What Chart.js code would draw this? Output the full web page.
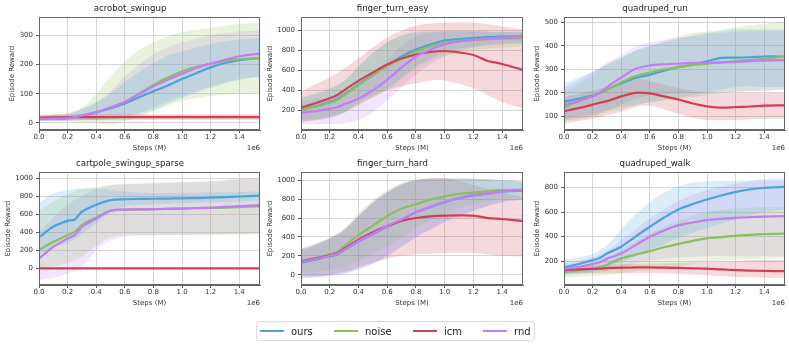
<!DOCTYPE html>
<html lang="en">
<head>
<meta charset="UTF-8">
<title>Episode Reward curves</title>
<script src="https://cdn.jsdelivr.net/npm/chart.js"></script>
<style>
  body { margin: 0; width: 789px; height: 345px; overflow: hidden; background: #fff; position: relative; font-family: "DejaVu Sans", sans-serif; }
  canvas { position: absolute; }
  #legend { position: absolute; left: 256px; top: 321px; width: 277px; height: 18px; border: 1px solid #dcdcdc; border-radius: 3px;
            display: flex; align-items: center; font-size: 10px; color: #222; }
  #legend .item { position: absolute; display: flex; align-items: center; }
  #legend .swatch { width: 24px; height: 2px; margin-right: 7px; }
</style>
</head>
<body>
<canvas id="c1" width="264" height="160" style="left:0px;top:0px"></canvas>
<canvas id="c2" width="265" height="160" style="left:262px;top:0px"></canvas>
<canvas id="c3" width="264" height="160" style="left:525px;top:0px"></canvas>
<canvas id="c4" width="264" height="160" style="left:0px;top:155px"></canvas>
<canvas id="c5" width="265" height="160" style="left:262px;top:155px"></canvas>
<canvas id="c6" width="264" height="160" style="left:525px;top:155px"></canvas>
<div id="legend"></div>
<script>
// x positions (env steps); lines use `steps`, shaded bands use `bandSteps`
const steps = [0, 0.1e6, 0.2e6, 0.25e6, 0.3e6, 0.4e6, 0.5e6, 0.6e6, 0.7e6, 0.8e6, 0.9e6, 1.0e6, 1.1e6, 1.2e6, 1.3e6, 1.4e6, 1.545e6];
const bandSteps = [0, 0.1e6, 0.2e6, 0.3e6, 0.4e6, 0.5e6, 0.6e6, 0.7e6, 0.8e6, 0.9e6, 1.0e6, 1.2e6, 1.4e6, 1.545e6];
const xTicks = [0, 0.2e6, 0.4e6, 0.6e6, 0.8e6, 1.0e6, 1.2e6, 1.4e6];
const methods = ['ours', 'noise', 'icm', 'rnd'];
const colors = ['#4ba3de', '#8bbf5c', '#d23f52', '#c27cf7'];

// acrobot_swingup
const acrobotTicks = [0, 100, 200, 300];
const acrobotOurs  = [15, 15, 16, 20, 25, 35, 50, 67, 88, 108, 128, 150, 170, 190, 205, 215, 222];
const acrobotNoise = [14, 15, 17, 21, 26, 37, 53, 72, 100, 130, 155, 177, 192, 202, 212, 218, 222];
const acrobotIcm   = [18, 19, 19, 20, 20, 20, 20, 20, 20, 20, 20, 20, 20, 20, 20, 20, 20];
const acrobotRnd   = [14, 15, 16, 20, 26, 37, 53, 72, 98, 125, 148, 168, 188, 203, 216, 228, 237];
const acrobotOursHi  = [25, 28, 35, 50, 70, 100, 140, 175, 205, 230, 245, 270, 285, 290];
const acrobotOursLo  = [8, 8, 8, 9, 10, 12, 18, 30, 45, 65, 85, 120, 148, 158];
const acrobotNoiseHi = [25, 28, 30, 50, 100, 160, 210, 250, 275, 295, 310, 325, 338, 342];
const acrobotNoiseLo = [5, 5, 5, 3, 0, -5, 5, 20, 40, 60, 75, 92, 100, 102];
const acrobotIcmHi   = [28, 29, 30, 30, 30, 30, 30, 30, 30, 30, 30, 30, 30, 30];
const acrobotIcmLo   = [8, 9, 10, 10, 10, 10, 10, 10, 10, 10, 10, 10, 10, 10];
const acrobotRndHi   = [25, 28, 30, 45, 70, 110, 160, 200, 235, 260, 275, 300, 312, 315];
const acrobotRndLo   = [8, 8, 8, 9, 10, 15, 20, 35, 55, 75, 95, 125, 150, 160];

// finger_turn_easy
const easyTicks = [200, 400, 600, 800, 1000];
const easyOurs  = [212, 240, 285, 310, 360, 460, 560, 650, 740, 810, 860, 900, 915, 925, 935, 940, 945];
const easyNoise = [207, 235, 275, 300, 350, 450, 550, 645, 720, 790, 840, 875, 895, 905, 915, 920, 925];
const easyIcm   = [227, 270, 320, 350, 400, 495, 580, 660, 720, 760, 785, 795, 780, 755, 695, 665, 605];
const easyRnd   = [173, 190, 215, 230, 260, 315, 400, 505, 630, 740, 810, 860, 890, 910, 920, 930, 935];
const easyOursHi  = [330, 370, 420, 500, 640, 780, 880, 950, 985, 990, 995, 995, 990, 990];
const easyOursLo  = [100, 110, 130, 180, 280, 350, 420, 530, 640, 720, 780, 840, 870, 880];
const easyNoiseHi = [320, 360, 410, 490, 630, 770, 880, 950, 980, 990, 990, 990, 985, 985];
const easyNoiseLo = [90, 100, 120, 170, 260, 330, 400, 510, 620, 700, 750, 800, 830, 840];
const easyIcmHi   = [390, 460, 530, 620, 720, 830, 930, 1000, 1050, 1070, 1080, 1080, 1040, 1010];
const easyIcmLo   = [80, 100, 130, 180, 250, 330, 400, 440, 470, 500, 500, 420, 280, 220];
const easyRndHi   = [290, 310, 330, 380, 450, 560, 700, 850, 940, 980, 990, 990, 985, 985];
const easyRndLo   = [60, 60, 60, 70, 100, 180, 300, 430, 560, 660, 740, 830, 860, 870];

// quadruped_run
const runTicks = [100, 200, 300, 400, 500];
const runOurs  = [162, 175, 190, 200, 215, 240, 264, 277, 295, 310, 320, 335, 349, 350, 352, 355, 355];
const runNoise = [138, 165, 188, 198, 212, 245, 272, 287, 300, 310, 318, 325, 330, 335, 340, 345, 355];
const runIcm   = [122, 135, 150, 158, 165, 185, 200, 198, 185, 172, 155, 143, 137, 140, 142, 146, 147];
const runRnd   = [148, 165, 185, 200, 225, 265, 303, 317, 322, 325, 328, 328, 330, 332, 335, 338, 340];
const runOursHi  = [240, 265, 290, 320, 350, 380, 400, 415, 430, 445, 455, 470, 470, 470];
const runOursLo  = [90, 100, 110, 125, 140, 150, 160, 170, 180, 190, 200, 225, 225, 225];
const runNoiseHi = [200, 240, 280, 320, 350, 380, 400, 420, 440, 455, 460, 480, 495, 500];
const runNoiseLo = [80, 90, 100, 115, 130, 145, 160, 168, 175, 183, 190, 205, 210, 215];
const runIcmHi   = [180, 195, 210, 225, 240, 260, 250, 235, 220, 210, 200, 200, 200, 200];
const runIcmLo   = [70, 80, 90, 105, 120, 140, 145, 130, 110, 95, 85, 85, 90, 90];
const runRndHi   = [220, 255, 290, 330, 360, 400, 415, 425, 435, 440, 450, 460, 465, 465];
const runRndLo   = [85, 90, 100, 125, 150, 175, 190, 195, 200, 200, 200, 205, 210, 215];

// cartpole_swingup_sparse
const cartTicks = [0, 200, 400, 600, 800, 1000];
const cartOurs  = [345, 460, 525, 540, 626, 704, 755, 765, 768, 770, 772, 775, 778, 782, 788, 795, 805];
const cartNoise = [200, 293, 367, 404, 478, 563, 637, 650, 652, 655, 658, 660, 665, 668, 672, 678, 685];
const cartIcm   = [0, 0, 0, 0, 0, 0, 0, 0, 0, 0, 0, 0, 0, 0, 0, 0, 0];
const cartRnd   = [107, 237, 330, 367, 459, 552, 637, 650, 652, 655, 658, 662, 668, 672, 680, 688, 700];
const cartOursHi  = [720, 830, 865, 885, 880, 870, 850, 840, 835, 835, 835, 840, 845, 850];
const cartOursLo  = [150, 230, 280, 380, 500, 620, 690, 700, 710, 715, 720, 730, 740, 750];
const cartNoiseHi = [640, 740, 820, 875, 900, 920, 930, 935, 940, 945, 950, 960, 985, 995];
const cartNoiseLo = [-20, 20, 60, 130, 250, 350, 365, 368, 370, 370, 370, 370, 372, 375];
const cartIcmHi   = [6, 6, 6, 6, 6, 6, 6, 6, 6, 6, 6, 6, 6, 6];
const cartIcmLo   = [-6, -6, -6, -6, -6, -6, -6, -6, -6, -6, -6, -6, -6, -6];
const cartRndHi   = [400, 560, 700, 800, 880, 920, 935, 940, 945, 950, 955, 965, 990, 1000];
const cartRndLo   = [-130, -105, -60, 15, 200, 310, 350, 360, 365, 368, 370, 375, 380, 390];

// finger_turn_hard
const hardTicks = [0, 200, 400, 600, 800, 1000];
const hardOurs  = [130, 160, 195, 215, 260, 352, 430, 510, 580, 660, 715, 768, 810, 840, 860, 880, 890];
const hardNoise = [145, 175, 215, 240, 300, 418, 520, 620, 700, 745, 795, 830, 855, 870, 885, 895, 900];
const hardIcm   = [140, 170, 205, 225, 275, 370, 450, 515, 570, 600, 618, 626, 628, 625, 600, 590, 568];
const hardRnd   = [135, 165, 200, 220, 265, 357, 435, 515, 585, 662, 718, 772, 812, 842, 862, 882, 895];
const hardOursHi  = [270, 320, 380, 470, 620, 760, 870, 960, 1000, 1010, 1015, 1015, 1000, 985];
const hardOursLo  = [-30, -25, -10, 10, 60, 120, 200, 300, 400, 480, 560, 680, 770, 800];
const hardNoiseHi = [270, 320, 390, 490, 650, 790, 900, 970, 1010, 1020, 1020, 1015, 1000, 985];
const hardNoiseLo = [20, 30, 50, 80, 150, 220, 300, 400, 500, 580, 650, 750, 800, 810];
const hardIcmHi   = [260, 310, 380, 470, 620, 760, 870, 950, 1000, 1020, 1020, 950, 870, 820];
const hardIcmLo   = [-20, -15, 0, 30, 80, 130, 170, 200, 215, 225, 230, 230, 200, 190];
const hardRndHi   = [280, 330, 390, 480, 630, 770, 880, 960, 1000, 1015, 1020, 1015, 1000, 985];
const hardRndLo   = [-35, -30, -15, 10, 55, 115, 195, 295, 395, 475, 555, 675, 765, 795];

// quadruped_walk
const walkTicks = [200, 400, 600, 800];
const walkOurs  = [150, 175, 208, 225, 262, 317, 400, 480, 555, 621, 665, 702, 735, 765, 785, 797, 805];
const walkNoise = [112, 125, 140, 150, 170, 222, 252, 281, 313, 341, 365, 385, 396, 406, 414, 420, 425];
const walkIcm   = [127, 132, 136, 138, 142, 146, 148, 148, 146, 144, 141, 138, 132, 127, 123, 120, 118];
const walkRnd   = [135, 152, 175, 190, 220, 262, 330, 398, 450, 493, 515, 534, 545, 553, 558, 562, 567];
const walkOursHi  = [210, 230, 260, 330, 460, 580, 680, 760, 810, 840, 850, 855, 860, 860];
const walkOursLo  = [90, 100, 115, 150, 190, 240, 290, 340, 390, 430, 470, 540, 600, 620];
const walkNoiseHi = [150, 160, 180, 220, 290, 360, 420, 480, 530, 570, 600, 630, 640, 640];
const walkNoiseLo = [70, 72, 78, 85, 100, 115, 130, 145, 160, 175, 190, 210, 220, 225];
const walkIcmHi   = [150, 158, 165, 170, 175, 178, 180, 183, 185, 188, 190, 200, 210, 210];
const walkIcmLo   = [100, 100, 100, 100, 100, 100, 100, 98, 95, 90, 85, 72, 65, 65];
const walkRndHi   = [180, 200, 230, 280, 370, 460, 550, 620, 690, 740, 780, 830, 870, 880];
const walkRndLo   = [90, 95, 105, 120, 150, 180, 205, 220, 230, 235, 240, 240, 240, 240];

const panels = [
  { id: 'c1', title: 'acrobot_swingup', min: -24, max: 361, ticks: acrobotTicks, yTitleX: 12.5,
    mean: [acrobotOurs, acrobotNoise, acrobotIcm, acrobotRnd],
    hi: [acrobotOursHi, acrobotNoiseHi, acrobotIcmHi, acrobotRndHi],
    lo: [acrobotOursLo, acrobotNoiseLo, acrobotIcmLo, acrobotRndLo] },
  { id: 'c2', title: 'finger_turn_easy', min: 2, max: 1133, ticks: easyTicks, yTitleX: 8.5,
    mean: [easyOurs, easyNoise, easyIcm, easyRnd],
    hi: [easyOursHi, easyNoiseHi, easyIcmHi, easyRndHi],
    lo: [easyOursLo, easyNoiseLo, easyIcmLo, easyRndLo] },
  { id: 'c3', title: 'quadruped_run', min: 42, max: 522, ticks: runTicks, yTitleX: 12.5,
    mean: [runOurs, runNoise, runIcm, runRnd],
    hi: [runOursHi, runNoiseHi, runIcmHi, runRndHi],
    lo: [runOursLo, runNoiseLo, runIcmLo, runRndLo] },
  { id: 'c4', title: 'cartpole_swingup_sparse', min: -185, max: 1063, ticks: cartTicks, yTitleX: 8,
    mean: [cartOurs, cartNoise, cartIcm, cartRnd],
    hi: [cartOursHi, cartNoiseHi, cartIcmHi, cartRndHi],
    lo: [cartOursLo, cartNoiseLo, cartIcmLo, cartRndLo] },
  { id: 'c5', title: 'finger_turn_hard', min: -109, max: 1084, ticks: hardTicks, yTitleX: 8,
    mean: [hardOurs, hardNoise, hardIcm, hardRnd],
    hi: [hardOursHi, hardNoiseHi, hardIcmHi, hardRndHi],
    lo: [hardOursLo, hardNoiseLo, hardIcmLo, hardRndLo] },
  { id: 'c6', title: 'quadruped_walk', min: 5, max: 924, ticks: walkTicks, yTitleX: 12.5,
    mean: [walkOurs, walkNoise, walkIcm, walkRnd],
    hi: [walkOursHi, walkNoiseHi, walkIcmHi, walkRndHi],
    lo: [walkOursLo, walkNoiseLo, walkIcmLo, walkRndLo] }
];

const FONT = 'DejaVu Sans';

function xy(xs, ys) {
  return ys.map((y, i) => ({ x: xs[i], y: y }));
}

function withAlpha(hex, a) {
  const n = parseInt(hex.slice(1), 16);
  return 'rgba(' + (n >> 16) + ',' + ((n >> 8) & 255) + ',' + (n & 255) + ',' + a + ')';
}

// closed frame round the plot + the "1e6" offset label
const framePlugin = {
  id: 'frame',
  afterDatasetsDraw(chart) {
    const a = chart.chartArea, ctx = chart.ctx;
    ctx.save();
    ctx.strokeStyle = '#666';
    ctx.lineWidth = 1;
    ctx.strokeRect(Math.round(a.left) + 0.5, Math.round(a.top) + 0.5,
                   Math.round(a.right - a.left) - 1, Math.round(a.bottom - a.top) - 1);
    ctx.restore();
  },
  afterDraw(chart) {
    const a = chart.chartArea, ctx = chart.ctx;
    ctx.save();
    ctx.font = '7px "' + FONT + '"';
    ctx.fillStyle = '#333';
    ctx.textAlign = 'right';
    ctx.textBaseline = 'middle';
    ctx.fillText('1e6', a.right, a.bottom + 18);
    ctx.restore();
  }
};

panels.forEach(p => {
  const datasets = [];
  methods.forEach((m, i) => {
    datasets.push({
      label: m + ' upper', data: xy(bandSteps, p.hi[i]),
      borderWidth: 0, borderColor: 'rgba(0,0,0,0)', pointRadius: 0, tension: 0.35,
      fill: '+1', backgroundColor: withAlpha(colors[i], 0.2), order: 10 + i * 2
    });
    datasets.push({
      label: m + ' lower', data: xy(bandSteps, p.lo[i]),
      borderWidth: 0, borderColor: 'rgba(0,0,0,0)', pointRadius: 0, tension: 0.35,
      fill: false, order: 11 + i * 2
    });
  });
  methods.forEach((m, i) => {
    datasets.push({
      label: m, data: xy(steps, p.mean[i]),
      borderColor: colors[i], borderWidth: 2.2, pointRadius: 0, tension: 0.3,
      fill: false, order: 4 - i
    });
  });

  new Chart(document.getElementById(p.id), {
    type: 'line',
    data: { datasets: datasets },
    plugins: [framePlugin],
    options: {
      responsive: false,
      animation: false,
      layout: { padding: { right: 4 } },
      plugins: {
        legend: { display: false },
        tooltip: { enabled: false },
        title: {
          display: true, text: p.title, color: '#222',
          font: { family: FONT, size: 8.6, weight: 'normal' },
          padding: { top: 4, bottom: 3 }
        }
      },
      scales: {
        x: {
          type: 'linear', min: 0, max: 1.545e6,
          afterBuildTicks: s => { s.ticks = xTicks.map(v => ({ value: v })); },
          ticks: {
            autoSkip: false, maxRotation: 0,
            padding: 0, color: '#333', font: { family: FONT, size: 7 },
            callback: v => (v / 1e6).toFixed(1)
          },
          grid: { color: '#d6d6d6', tickColor: '#555', tickLength: 3 },
          border: { color: '#666' },
          title: {
            display: true, text: 'Steps (M)', color: '#333',
            font: { family: FONT, size: 7 }, padding: { top: 0, bottom: 8 }
          },
          afterFit: s => { s.height = 30; }
        },
        y: {
          min: p.min, max: p.max,
          afterBuildTicks: s => { s.ticks = p.ticks.map(v => ({ value: v })); },
          ticks: {
            autoSkip: false, padding: 3, color: '#333',
            font: { family: FONT, size: 7 },
            callback: v => String(v)
          },
          grid: { color: '#d6d6d6', tickColor: '#555', tickLength: 3 },
          border: { color: '#666' },
          title: {
            display: true, text: 'Episode Reward', color: '#333',
            font: { family: FONT, size: 7 }, padding: { top: p.yTitleX - 4.2, bottom: 0 }
          },
          afterFit: s => { s.width = 39; }
        }
      }
    }
  });
});

// legend below the grid
const legend = document.getElementById('legend');
const legendX = [3, 77, 156, 226];
methods.forEach((m, i) => {
  const item = document.createElement('div');
  item.className = 'item';
  item.style.left = legendX[i] + 'px';
  item.innerHTML = '<span class="swatch" style="background:' + colors[i] + '"></span><span>' + m + '</span>';
  legend.appendChild(item);
});
</script>
</body>
</html>
